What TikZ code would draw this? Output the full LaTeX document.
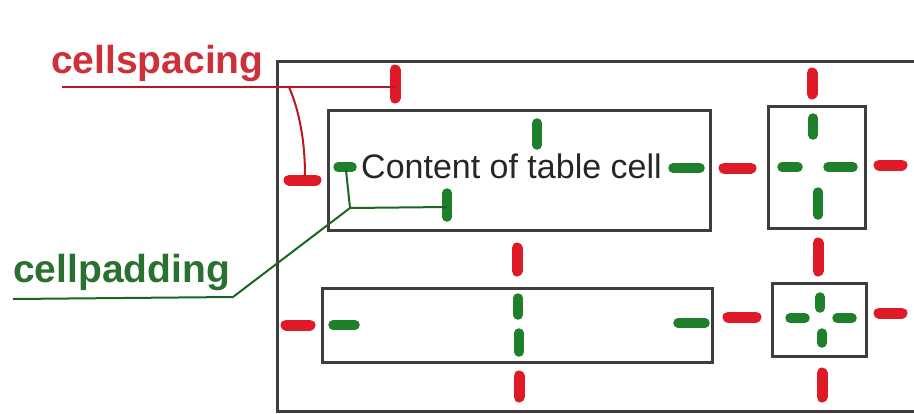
\documentclass[tikz,border=0pt]{standalone}
\usepackage{fontspec}
\setmainfont{Liberation Sans}
\definecolor{sp}{RGB}{222,26,38}
\definecolor{pd}{RGB}{30,128,42}
\definecolor{spt}{RGB}{206,48,58}
\definecolor{pdt}{RGB}{42,112,48}
\definecolor{edge}{RGB}{62,62,62}

\begin{document}
\begin{tikzpicture}[x=1pt,y=-1pt,
  cellbox/.style={draw=edge,line width=3pt,inner sep=0pt},
  spmark/.style={draw=sp,line width=11pt,line cap=round},
  pdmark/.style={draw=pd,line width=9.5pt,line cap=round},
  spline/.style={draw=sp!85!black,line width=2pt},
  pdline/.style={draw=pd!80!black,line width=2pt},
  lbl/.style={inner sep=0pt,anchor=base west,font=\bfseries\fontsize{39}{44}\selectfont}]
\useasboundingbox (0,0) rectangle (914,413);
\clip (0,0) rectangle (914,413);

% outer table border (continues past the right edge)
\draw[cellbox] (277,61) rectangle (940,411);

% the four cells
\node[cellbox,minimum width=382pt,minimum height=120pt] (c1) at (519,170) {};
\node[cellbox,minimum width=97pt,minimum height=122pt] (c2) at (816.5,167) {};
\node[cellbox,minimum width=390pt,minimum height=74pt] (c3) at (517,325) {};
\node[cellbox,minimum width=94pt,minimum height=73pt] (c4) at (819,319.5) {};

\node[inner sep=0pt,anchor=base west,text=black!85,font=\fontsize{34}{40}\selectfont]
  (content) at (361,178) {Content of table cell};

% labels
\node[lbl,text=spt] (cs) at (51,73) {cellspacing};
\node[lbl,text=pdt] (cp) at (13,282) {cellpadding};

% spacing markers (red)
\draw[spmark] (395,70) -- (395,98);
\draw[spmark] (289,180) -- (316,180);
\draw[spmark] (724,168) -- (751,168);
\draw[spmark] (812,73) -- (812,94);
\draw[spmark] (879,165) -- (902,165);
\draw[spmark] (818,243) -- (818,271);
\draw[spmark] (879,313) -- (902,313);
\draw[spmark] (822,373) -- (822,397);
\draw[spmark] (728,317) -- (756,317);
\draw[spmark] (286,325) -- (310,325);
\draw[spmark] (517,248) -- (517,271);
\draw[spmark] (519,376) -- (519,397);

% padding markers (green)
\draw[pdmark] (338,167) -- (352,167);
\draw[pdmark] (537,123) -- (537,145);
\draw[pdmark] (673,168) -- (700,168);
\draw[pdmark] (447,193) -- (447,217);
\draw[pdmark] (813,118) -- (813,135);
\draw[pdmark] (782,167) -- (798,167);
\draw[pdmark] (828,167) -- (853,167);
\draw[pdmark] (818,192) -- (818,215);
\draw[pdmark] (820,297) -- (820,308);
\draw[pdmark] (790,318) -- (805,318);
\draw[pdmark] (837,318) -- (852,318);
\draw[pdmark] (822,333) -- (822,343);
\draw[pdmark] (678,323) -- (705,323);
\draw[pdmark] (333,325) -- (355,325);
\draw[pdmark] (518,298) -- (518,315);
\draw[pdmark] (519,333) -- (519,352);

% leader end points
\coordinate (csStart) at (62,87);
\coordinate (csTop) at (395,87);
\coordinate (csFork) at (289,87);
\coordinate (csLeft) at (305,176);
\coordinate (cpStart) at (13,299);
\coordinate (cpBend) at (233,297);
\coordinate (cpJoin) at (350,208);
\coordinate (cpLeft) at (346,170);
\coordinate (cpBottom) at (447,207);

% cellspacing leaders
\draw[spline] (csStart) -- (csTop);
\draw[spline] (csFork) .. controls (299,110) and (305,140) .. (csLeft);

% cellpadding leaders
\draw[pdline] (cpStart) -- (cpBend) -- (cpJoin) -- (cpBottom);
\draw[pdline] (cpLeft) -- (cpJoin);
\end{tikzpicture}
\end{document}
